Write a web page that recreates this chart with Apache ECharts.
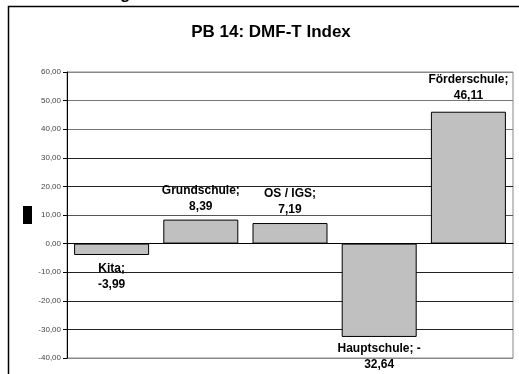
<!DOCTYPE html>
<html>
<head>
<meta charset="utf-8">
<script src="https://cdn.jsdelivr.net/npm/echarts@6/dist/echarts.min.js"></script>
<style>
  html, body { margin: 0; padding: 0; background: #fff; }
  #main { width: 519px; height: 374px; }
</style>
</head>
<body>
<div id="main"></div>
<script>
  // Schulformen und DMF-T Index-Werte
  var categories = ['Kita', 'Grundschule', 'OS / IGS', 'Hauptschule', 'Förderschule'];
  var values = [-3.99, 8.39, 7.19, -32.64, 46.11];
  var labelTexts = ['Kita;\n-3,99', 'Grundschule;\n8,39', 'OS / IGS;\n7,19', 'Hauptschule; -\n32,64', 'Förderschule;\n46,11'];
  var labelGaps = [6, 5, 5, 4, 8];

  function fmt(v) {
    return v.toFixed(2).replace('.', ',');
  }

  var chart = echarts.init(document.getElementById('main'));

  var data = values.map(function (v, i) {
    return {
      value: v,
      label: {
        position: v < 0 ? 'bottom' : 'top',
        distance: labelGaps[i],
        formatter: labelTexts[i]
      }
    };
  });

  chart.setOption({
    animation: false,
    backgroundColor: '#fff',
    title: {
      text: 'PB 14: DMF-T Index',
      left: 266,
      top: 19,
      textAlign: 'center',
      textStyle: {
        fontFamily: 'Liberation Sans, Arial, sans-serif',
        fontSize: 17,
        fontWeight: 'bold',
        color: '#000'
      }
    },
    graphic: [
      // Rahmen des Diagrammbereichs
      {
        type: 'polyline',
        shape: { points: [[8.5, 380], [8.5, 6.5], [525, 6.5]] },
        style: { stroke: '#000', lineWidth: 1.5, fill: null }
      },
      // schwarzes Legendensymbol links
      {
        type: 'rect',
        shape: { x: 23, y: 206, width: 9, height: 18 },
        style: { fill: '#000' }
      },
      // abgeschnittener Text oben
      {
        type: 'text',
        left: 120,
        top: -14,
        style: { text: 'g', font: 'bold 17px Liberation Sans', fill: '#000' }
      }
    ],
    grid: {
      left: 67,
      right: 6,
      top: 72,
      bottom: 16,
      show: true,
      borderColor: '#888',
      borderWidth: 1
    },
    xAxis: {
      type: 'category',
      data: categories,
      axisLine: { show: true, lineStyle: { color: '#000', width: 1 } },
      axisTick: { show: false },
      axisLabel: { show: false },
      splitLine: { show: false }
    },
    yAxis: {
      type: 'value',
      min: -40,
      max: 60,
      interval: 10,
      axisLine: { show: true, lineStyle: { color: '#000', width: 1 } },
      axisTick: { show: true, inside: false, length: 4, lineStyle: { color: '#000' } },
      axisLabel: {
        formatter: fmt,
        fontFamily: 'Liberation Sans, Arial, sans-serif',
        fontSize: 8,
        color: '#444',
        margin: 6
      },
      splitLine: {
        show: true,
        lineStyle: {
          color: ['#888', '#222', '#222', '#222', '#222', '#555', '#222', '#222', '#777', '#777', '#888'],
          width: 1
        }
      }
    },
    series: [{
      type: 'bar',
      data: data,
      barWidth: 75,
      itemStyle: {
        color: '#c0c0c0',
        borderColor: '#000',
        borderWidth: 1
      },
      label: {
        show: true,
        fontFamily: 'Liberation Sans, Arial, sans-serif',
        fontSize: 12,
        fontWeight: 'bold',
        color: '#000',
        lineHeight: 16,
        align: 'center'
      }
    }]
  });
</script>
</body>
</html>
